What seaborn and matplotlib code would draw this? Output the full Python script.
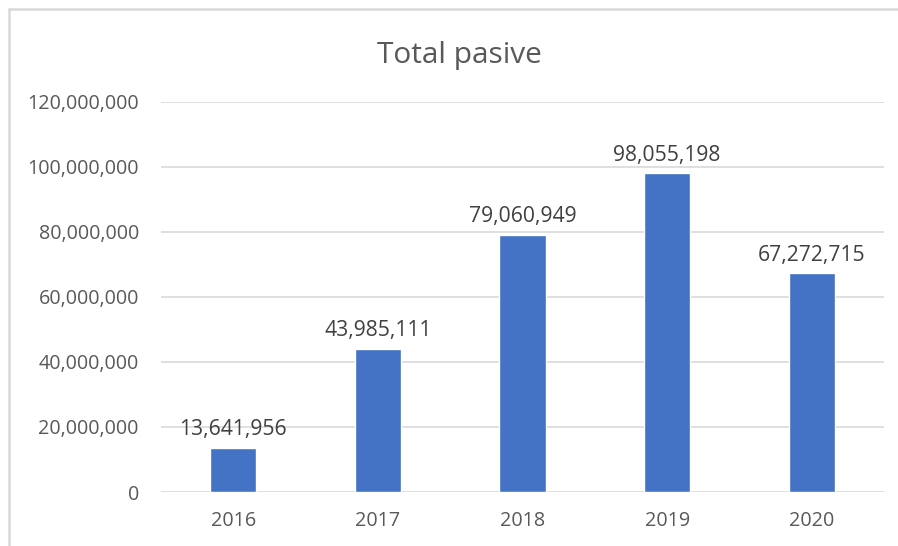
import matplotlib
matplotlib.use("Agg")
import matplotlib.pyplot as plt
from matplotlib.ticker import FuncFormatter, MultipleLocator
from matplotlib.lines import Line2D
import seaborn as sns
import pandas as pd

years = ["2016", "2017", "2018", "2019", "2020"]
total_pasive = [13641956, 43985111, 79060949, 98055198, 67272715]

sns.set_theme(style="white")
plt.rcParams["font.family"] = ["Open Sans", "DejaVu Sans"]

text_color = "#595959"
bar_color = "#4472C4"
grid_color = "#D9D9D9"

df = pd.DataFrame({"year": years, "value": total_pasive})

fig = plt.figure(figsize=(8.98, 5.46), dpi=100)
ax = fig.add_axes([0.1793, 0.0989, 0.8051, 0.7143])

sns.barplot(data=df, x="year", y="value", color=bar_color, width=0.32,
            saturation=1, ax=ax, zorder=3)

ax.set_ylim(0, 120000000)
ax.set_xlim(-0.5, len(years) - 0.5)
ax.yaxis.set_major_locator(MultipleLocator(20000000))
ax.yaxis.set_major_formatter(FuncFormatter(lambda v, p: f"{int(v):,}"))
ax.grid(axis="y", color=grid_color, linewidth=1.2, zorder=0)
ax.set_axisbelow(True)
for s in ax.spines.values():
    s.set_visible(False)
ax.set_xlabel("")
ax.set_ylabel("")
ax.tick_params(axis="both", length=0, labelsize=14.2, colors=text_color)
ax.tick_params(axis="y", pad=16)
ax.tick_params(axis="x", pad=14)

for i, v in enumerate(total_pasive):
    ax.text(i, v + 2400000, f"{v:,}", ha="center", va="bottom",
            fontsize=15.2, color="#404040", zorder=4)

fig.text(0.512, 1 - 63 / 546, "Total pasive", ha="center", va="baseline",
         fontsize=21.5, color=text_color)

# chart frame: left and top edges
frame_kw = dict(transform=fig.transFigure, color="#D9D9D9", linewidth=1.8)
fig.lines.append(Line2D([9 / 898, 9 / 898], [0, 1 - 9 / 546], **frame_kw))
fig.lines.append(Line2D([9 / 898, 1], [1 - 9 / 546, 1 - 9 / 546], **frame_kw))

fig.savefig("out.png", dpi=100, facecolor="white")
